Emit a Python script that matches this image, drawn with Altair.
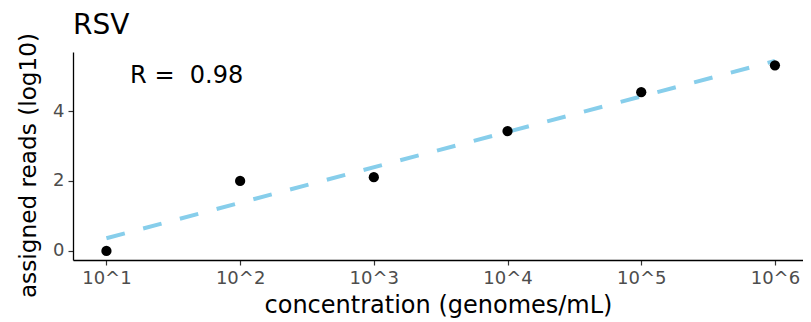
import altair as alt
import pandas as pd

log_conc = [1, 2, 3, 4, 5, 6]
reads = [0.0, 2.0, 2.11, 3.43, 4.54, 5.31]
tick_labels = ["10^1", "10^2", "10^3", "10^4", "10^5", "10^6"]
annot_text = ["R = \u00a00.98"]
annot_x = [1.6]
annot_y = [5.0]

df = pd.DataFrame({"x": log_conc, "y": reads})
ann = pd.DataFrame({"x": annot_x, "y": annot_y, "t": annot_text})

font = "DejaVu Sans"
label_expr = "'10^' + datum.value"

xscale = alt.Scale(domain=[0.75, 6.21], nice=False, zero=False)
yscale = alt.Scale(domain=[-0.26, 5.69], nice=False, zero=False)

xenc = alt.X("x:Q", scale=xscale,
             axis=alt.Axis(values=log_conc, labelExpr=label_expr,
                           title="concentration (genomes/mL)"))
yenc = alt.Y("y:Q", scale=yscale,
             axis=alt.Axis(values=[0, 2, 4], title="assigned reads (log10)",
                           titleY=113, titleFontSize=23.2))

line = alt.Chart(df).transform_regression("x", "y", extent=[1, 6]).mark_line(
    color="#87CEEB", strokeWidth=4, strokeDash=[19, 19]
).encode(x=xenc, y=yenc)

pts = alt.Chart(df).mark_circle(color="black", size=105, opacity=1).encode(x=xenc, y=yenc)

txt = alt.Chart(ann).mark_text(font=font, fontSize=24, color="black").encode(
    x=alt.X("x:Q", scale=xscale), y=alt.Y("y:Q", scale=yscale), text="t:N")

chart = alt.layer(line, pts, txt).properties(
    width=730, height=208,
    autosize=alt.AutoSizeParams(type="none"),
    padding={"left": 65, "top": 44, "right": 0, "bottom": 62},
    title=alt.TitleParams("RSV", anchor="start", frame="group", font=font, fontSize=28,
                          fontWeight="normal", color="black", offset=0, dy=30,
                          baseline="alphabetic"),
).configure_view(stroke=None).configure_axis(
    grid=False, domainColor="black", domainWidth=1.3, tickColor="#333333",
    tickSize=5, tickWidth=1.2, labelFont=font, labelFontSize=18, labelColor="#4d4d4d",
    titleFont=font, titleFontSize=24, titleFontWeight="normal", titleColor="black",
    labelPadding=4,
).configure_axisX(titlePadding=6).configure_axisY(titlePadding=12)

chart.save("out.html", embed_options={"renderer": "svg", "actions": False})
